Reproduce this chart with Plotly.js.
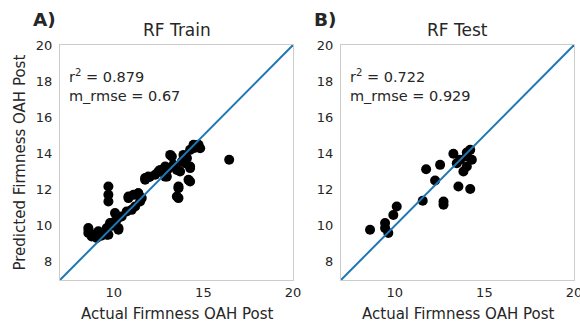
<!DOCTYPE html>
<html>
<head>
<meta charset="utf-8">
<script src="https://cdn.plot.ly/plotly-3.0.1.min.js"></script>
<style>html,body{margin:0;padding:0;background:#fff;}#chart{width:580px;height:323px;}</style>
</head>
<body>
<div id="chart"></div>
<script>
// Train set: actual vs predicted
const trainActual = [8.58, 8.58, 8.77, 8.96, 9.14, 9.42, 9.61, 9.70, 9.79, 10.07, 10.26, 10.17, 10.44, 10.72, 10.82, 11.10, 11.37, 11.47, 11.19, 11.00,
  11.75, 11.93, 12.31, 12.87, 13.61, 13.52, 9.70, 9.70, 9.70, 9.05, 8.60, 9.30, 9.61, 10.26,
  12.49, 12.87, 12.96, 13.24, 13.33, 13.70, 13.89, 13.98, 14.26, 14.17, 14.26, 13.61, 13.61, 14.45, 14.73, 14.82, 14.26, 14.08, 13.80, 13.52,
  13.15, 12.59, 11.37, 11.56, 10.82, 14.26, 16.44, 11.75, 12.00, 13.00, 14.50, 14.60, 10.00, 9.90];
const trainPred = [9.87, 9.60, 9.41, 9.50, 9.69, 9.60, 9.87, 9.50, 10.15, 10.70, 9.78, 10.33, 10.51, 10.79, 11.53, 11.71, 11.80, 11.34, 11.07, 10.88,
  12.64, 12.72, 12.82, 12.72, 12.17, 11.62, 12.17, 11.71, 11.34, 9.32, 9.75, 9.45, 9.50, 9.87,
  13.00, 13.28, 12.72, 13.83, 13.37, 13.00, 13.92, 13.46, 13.28, 12.54, 12.45, 12.08, 11.53, 14.48, 14.48, 14.29, 14.20, 13.74, 13.55, 13.09,
  13.92, 13.09, 11.80, 11.53, 11.62, 13.19, 13.65, 12.55, 12.70, 13.10, 14.30, 14.40, 10.20, 10.00];

// Test set: actual vs predicted
const testActual = [8.62, 9.46, 9.46, 9.64, 9.92, 10.11, 11.56, 11.75, 12.53, 12.25, 12.72, 12.72, 13.27, 13.46, 13.55, 13.83, 14.02, 14.21, 14.21, 14.30, 14.02, 13.65, 14.02];
const testPred = [9.78, 10.15, 9.87, 9.60, 10.60, 11.07, 11.38, 13.13, 13.37, 12.50, 11.34, 11.16, 13.98, 13.46, 12.17, 13.00, 13.28, 14.20, 12.03, 13.65, 13.83, 13.65, 14.05];

const diag = [7, 20];
const axisRange = [7, 20];
const xTicks = [10, 15, 20];
const yTicks = [8, 10, 12, 14, 16, 18, 20];
const titles = ['RF Train', 'RF Test'];
const panelLabels = ['A)', 'B)'];
const r2 = ['0.879', '0.722'];
const rmse = ['0.67', '0.929'];
const xTitle = 'Actual Firmness OAH Post';
const yTitle = 'Predicted Firmness OAH Post';

const txt = '#262626';
const fam = 'DejaVu Sans, sans-serif';
const W = 580, H = 323;

const traces = [
  {x: trainActual, y: trainPred, xaxis: 'x', yaxis: 'y', mode: 'markers', type: 'scatter',
   marker: {color: '#000', size: 10}},
  {x: diag, y: diag, xaxis: 'x', yaxis: 'y', mode: 'lines', type: 'scatter',
   line: {color: '#1f77b4', width: 2}},
  {x: testActual, y: testPred, xaxis: 'x2', yaxis: 'y2', mode: 'markers', type: 'scatter',
   marker: {color: '#000', size: 10}},
  {x: diag, y: diag, xaxis: 'x2', yaxis: 'y2', mode: 'lines', type: 'scatter',
   line: {color: '#1f77b4', width: 2}}
];

function xax(dom, anchor) {
  return {domain: dom, anchor: anchor, range: axisRange, tickvals: xTicks, ticks: '',
    showgrid: false, zeroline: false, showline: true, mirror: true, linecolor: '#cccccc', linewidth: 1,
    tickfont: {family: fam, size: 13, color: txt}, ticklabelstandoff: 0, ticklabeloverflow: 'allow'};
}
function yax(anchor) {
  return {domain: [(H - 280) / H, (H - 45) / H], anchor: anchor, range: axisRange, tickvals: yTicks, ticks: '',
    showgrid: false, zeroline: false, showline: true, mirror: true, linecolor: '#cccccc', linewidth: 1,
    tickfont: {family: fam, size: 13, color: txt}, ticklabelstandoff: 4, ticklabeloverflow: 'allow'};
}

const annotations = [];
const xStarts = [60, 341];
const xRefs = ['x', 'x2'];
for (let i = 0; i < 2; i++) {
  annotations.push({xref: xRefs[i] + ' domain', yref: 'paper', x: 0.5, y: (H - 30) / H, text: titles[i],
    showarrow: false, xanchor: 'center', yanchor: 'middle', font: {family: fam, size: 17, color: txt}});
  annotations.push({xref: 'paper', yref: 'paper', x: (xStarts[i] - 29) / W, y: (H - 19) / H, text: '<b>' + panelLabels[i] + '</b>',
    showarrow: false, xanchor: 'left', yanchor: 'middle', font: {family: fam, size: 18.5, color: txt}});
  annotations.push({xref: xRefs[i] + ' domain', yref: 'paper', x: 0.03, y: (H - 76) / H, text: 'r<sup>2</sup> = ' + r2[i],
    showarrow: false, xanchor: 'left', yanchor: 'middle', font: {family: fam, size: 14.5, color: txt}});
  annotations.push({xref: xRefs[i] + ' domain', yref: 'paper', x: 0.03, y: (H - 96) / H, text: 'm_rmse = ' + rmse[i],
    showarrow: false, xanchor: 'left', yanchor: 'middle', font: {family: fam, size: 14.5, color: txt}});
  annotations.push({xref: xRefs[i] + ' domain', yref: 'paper', x: 0.5, y: (H - 314) / H, text: xTitle,
    showarrow: false, xanchor: 'center', yanchor: 'middle', font: {family: fam, size: 15, color: txt}});
}
annotations.push({xref: 'paper', yref: 'y domain', x: 19 / W, y: 0.5, text: yTitle, textangle: -90,
  showarrow: false, xanchor: 'center', yanchor: 'middle', font: {family: fam, size: 15, color: txt}});

const layout = {
  width: W, height: H, margin: {l: 0, r: 0, t: 0, b: 0},
  paper_bgcolor: '#fff', plot_bgcolor: '#fff', showlegend: false,
  xaxis: xax([60 / W, 293 / W], 'y'),
  yaxis: yax('x'),
  xaxis2: xax([341 / W, 574 / W], 'y2'),
  yaxis2: yax('x2'),
  annotations: annotations
};

Plotly.newPlot('chart', traces, layout, {displayModeBar: false, staticPlot: true});
</script>
</body>
</html>
